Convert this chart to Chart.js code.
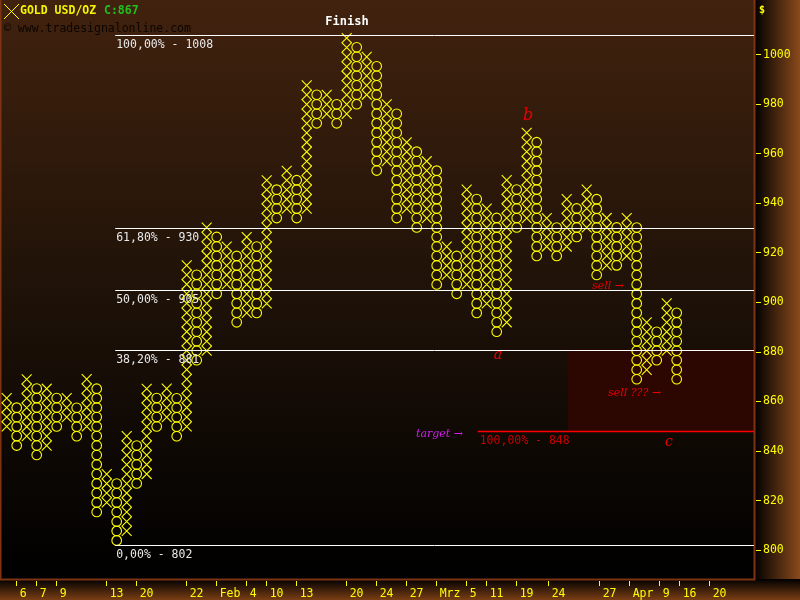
<!DOCTYPE html>
<html>
<head>
<meta charset="utf-8">
<script src="https://cdn.jsdelivr.net/npm/chart.js@4.4.1/dist/chart.umd.min.js"></script>
<style>
html, body { margin: 0; padding: 0; background: #000; }
</style>
</head>
<body>
<canvas id="pnf" width="800" height="600"></canvas>
<script>
// point & figure columns (box ~3.83 $)
var boxSize = 3.83;
var colType = ["X","O","X","O","X","O","X","O","X","O",
               "X","O","X","O","X","O","X","O","X","O",
               "X","O","X","O","X","O","X","O","X","O",
               "X","O","X","O","X","O","X","O","X","O",
               "X","O","X","O","X","O","X","O","X","O",
               "X","O","X","O","X","O","X","O","X","O",
               "X","O","X","O","X","O","X","O"];
var colLow = [849.9, 842.2, 846.0, 838.4, 842.2, 849.9, 853.7, 846.0, 849.9, 815.4,
              819.2, 803.9, 807.7, 826.9, 830.7, 849.9, 853.7, 846.0, 849.9, 876.7,
              880.5, 903.5, 907.3, 892.0, 895.8, 895.8, 899.6, 934.1, 937.9, 934.1,
              937.9, 972.4, 976.2, 972.4, 976.2, 980.1, 983.9, 953.3, 957.1, 934.1,
              937.9, 930.3, 934.1, 907.3, 911.1, 903.5, 907.3, 895.8, 899.6, 888.2,
              892.0, 930.3, 934.1, 918.8, 922.6, 918.8, 922.6, 926.5, 930.3, 911.1,
              915.0, 915.0, 918.8, 869.0, 872.8, 876.7, 880.5, 869.0];
var colHigh = [861.3, 857.5, 869.0, 865.2, 865.2, 861.3, 861.3, 857.5, 869.0, 865.2,
               830.7, 826.9, 846.0, 842.2, 865.2, 861.3, 865.2, 861.3, 915.0, 911.1,
               930.3, 926.5, 922.6, 918.8, 926.5, 922.6, 949.4, 945.6, 953.3, 949.4,
               987.7, 983.9, 983.9, 980.1, 1006.9, 1003.1, 999.2, 995.4, 980.1, 976.2,
               964.8, 960.9, 957.1, 953.3, 922.6, 918.8, 945.6, 941.8, 937.9, 934.1,
               949.4, 945.6, 968.6, 964.8, 934.1, 930.3, 941.8, 937.9, 945.6, 941.8,
               934.1, 930.3, 934.1, 930.3, 892.0, 888.2, 899.6, 895.8];

var tickCols = [1, 3, 5, 10, 13, 18, 21, 24, 26, 29, 34, 37, 40, 43, 46, 48, 51, 54.2, 59.3, 62.3, 65.3, 67.3, 70.3];
var tickLabels = ["6", "7", "9", "13", "20", "22", "Feb", "4", "10", "13", "20", "24", "27", "Mrz", "5", "11", "19", "24", "27", "Apr", "9", "16", "20"];
var priceTicks = [800, 820, 840, 860, 880, 900, 920, 940, 960, 980, 1000];

var fibValues = [1008, 930, 905, 881, 802];
var fibLabels = ["100,00% - 1008", "61,80% - 930", "50,00% - 905", "38,20% - 881", "0,00% - 802"];
var targetValue = 848;
var targetLabel = "100,00% - 848";
var lastClose = 867;

var yellow = "#ffff00";
var mono = "'DejaVu Sans Mono', monospace";

var xPts = [], oPts = [];
for (var i = 0; i < colType.length; i++) {
    var n = Math.round((colHigh[i] - colLow[i]) / boxSize);
    for (var j = 0; j <= n; j++) {
        var p = { x: i, y: colLow[i] + j * boxSize };
        if (colType[i] == "X") xPts.push(p); else oPts.push(p);
    }
}

function noPad(scale) {
    scale.paddingTop = 0;
    scale.paddingBottom = 0;
    scale.paddingLeft = 0;
    scale.paddingRight = 0;
}

var backdrop = {
    id: "backdrop",
    beforeDraw: function (chart) {
        var ctx = chart.ctx, a = chart.chartArea;
        var g = ctx.createLinearGradient(0, a.top, 0, a.bottom);
        g.addColorStop(0, "#41220e");
        g.addColorStop(0.5, "#1f1208");
        g.addColorStop(1, "#000000");
        ctx.fillStyle = g;
        ctx.fillRect(a.left, a.top, a.right - a.left, a.bottom - a.top);

        g = ctx.createLinearGradient(0, a.bottom, 0, chart.height);
        g.addColorStop(0, "#000000");
        g.addColorStop(1, "#7a3e14");
        ctx.fillStyle = g;
        ctx.fillRect(0, a.bottom, chart.width, chart.height - a.bottom);

        g = ctx.createLinearGradient(a.right, 0, chart.width, 0);
        g.addColorStop(0, "#000000");
        g.addColorStop(1, "#8a4a1c");
        ctx.fillStyle = g;
        ctx.fillRect(a.right, 0, chart.width - a.right, a.bottom);
    },
    beforeDatasetsDraw: function (chart) {
        var ctx = chart.ctx, a = chart.chartArea;
        var xs = chart.scales.x, ys = chart.scales.y;
        // target zone
        var x0 = xs.getPixelForValue(56.1);
        var yTop = ys.getPixelForValue(fibValues[3]);
        var yBot = ys.getPixelForValue(targetValue);
        ctx.fillStyle = "#2c0600";
        ctx.fillRect(x0, yTop, a.right - x0, yBot - yTop);
        // frame
        ctx.strokeStyle = "#7e3412";
        ctx.lineWidth = 2;
        ctx.beginPath();
        ctx.moveTo(0.5, 0);
        ctx.lineTo(0.5, a.bottom);
        ctx.moveTo(0, a.bottom + 0.5);
        ctx.lineTo(a.right + 0.5, a.bottom + 0.5);
        ctx.lineTo(a.right + 0.5, 0);
        ctx.stroke();
    },
    afterDatasetsDraw: function (chart) {
        var ctx = chart.ctx, a = chart.chartArea;
        var xs = chart.scales.x, ys = chart.scales.y;
        ctx.save();
        ctx.lineWidth = 1;
        ctx.font = "11.5px " + mono;
        ctx.textBaseline = "top";
        ctx.textAlign = "left";
        var fx = xs.getPixelForValue(10.85);
        for (var k = 0; k < fibValues.length; k++) {
            var y = Math.round(ys.getPixelForValue(fibValues[k])) + 0.5;
            ctx.strokeStyle = "#ffffff";
            ctx.beginPath();
            ctx.moveTo(fx, y);
            ctx.lineTo(a.right, y);
            ctx.stroke();
            ctx.fillStyle = "#e8e8e8";
            ctx.fillText(fibLabels[k], fx + 1, y + 4);
        }
        var tx = xs.getPixelForValue(47.1);
        var ty = Math.round(ys.getPixelForValue(targetValue)) + 0.5;
        ctx.strokeStyle = "#ff0000";
        ctx.lineWidth = 1.5;
        ctx.beginPath();
        ctx.moveTo(tx, ty);
        ctx.lineTo(a.right, ty);
        ctx.stroke();
        ctx.fillStyle = "#c80000";
        ctx.fillText(targetLabel, tx + 2, ty + 4);

        ctx.fillStyle = "#ffffff";
        ctx.textAlign = "center";
        ctx.textBaseline = "middle";
        ctx.font = "bold 12px " + mono;
        ctx.fillText("Finish", 347, 22);

        ctx.fillStyle = "#e80000";
        ctx.font = "italic 16px 'DejaVu Serif', serif";
        ctx.fillText("b", 528, 116);
        ctx.font = "italic 14px 'DejaVu Serif', serif";
        ctx.fillText("a", 498, 355);
        ctx.fillText("c", 669, 442);

        ctx.font = "italic 11px 'DejaVu Serif', serif";
        ctx.textAlign = "left";
        ctx.fillText("sell \u2192", 592, 286);
        ctx.fillText("sell ??? \u2192", 608, 393);
        ctx.fillStyle = "#d020f0";
        ctx.fillText("target \u2192", 416, 434);
        ctx.restore();
    },
    afterDraw: function (chart) {
        var ctx = chart.ctx;
        ctx.save();
        ctx.strokeStyle = yellow;
        ctx.lineWidth = 1;
        ctx.beginPath();
        ctx.moveTo(4, 4); ctx.lineTo(19, 19);
        ctx.moveTo(19, 4); ctx.lineTo(4, 19);
        ctx.stroke();
        ctx.textBaseline = "middle";
        ctx.textAlign = "left";
        ctx.font = "bold 11.5px " + mono;
        ctx.fillStyle = "#f5f500";
        ctx.fillText("GOLD USD/OZ", 20, 11);
        ctx.fillStyle = "#20c020";
        ctx.fillText("C:" + lastClose, 104, 11);
        ctx.font = "11.5px " + mono;
        ctx.fillStyle = "#0c0502";
        ctx.fillText("\u00a9 www.tradesignalonline.com", 4, 29);
        ctx.fillStyle = yellow;
        ctx.font = "bold 10px " + mono;
        ctx.fillText("$", 759, 10);
        ctx.restore();
    }
};

new Chart("pnf", {
    type: "scatter",
    data: {
        datasets: [{
            label: "X",
            data: xPts,
            pointStyle: "crossRot",
            pointRadius: 7,
            pointBorderColor: yellow,
            pointBorderWidth: 1.1
        }, {
            label: "O",
            data: oPts,
            pointStyle: "circle",
            pointRadius: 4.8,
            pointBorderColor: yellow,
            pointBackgroundColor: "rgba(0,0,0,0)",
            pointBorderWidth: 1.1
        }]
    },
    options: {
        responsive: false,
        animation: false,
        events: [],
        layout: { padding: 0, autoPadding: false },
        plugins: {
            legend: { display: false },
            tooltip: { enabled: false }
        },
        scales: {
            x: {
                type: "linear",
                position: "bottom",
                min: -0.67,
                max: 74.73,
                afterBuildTicks: function (scale) {
                    scale.ticks = tickCols.map(function (v) { return { value: v }; });
                },
                afterFit: function (scale) { scale.height = 21; noPad(scale); },
                grid: {
                    drawOnChartArea: false,
                    tickLength: 7,
                    tickColor: yellow,
                    tickBorderDash: [0, 2, 5, 20]
                },
                border: { display: false },
                ticks: {
                    autoSkip: false,
                    maxRotation: 0,
                    align: "start",
                    labelOffset: 3,
                    padding: 1,
                    color: yellow,
                    font: { family: mono, size: 11.5 },
                    callback: function (v, idx) { return tickLabels[idx]; }
                }
            },
            y: {
                type: "linear",
                position: "right",
                min: 788.3,
                max: 1022.2,
                afterBuildTicks: function (scale) {
                    scale.ticks = priceTicks.map(function (v) { return { value: v }; });
                },
                afterFit: function (scale) { scale.width = 46; noPad(scale); },
                grid: {
                    drawOnChartArea: false,
                    tickLength: 7,
                    tickColor: yellow,
                    tickBorderDash: [0, 2, 5, 20]
                },
                border: { display: false },
                ticks: {
                    padding: 2,
                    color: yellow,
                    font: { family: mono, size: 11.5 },
                    callback: function (v) { return v; }
                }
            }
        }
    },
    plugins: [backdrop]
});
</script>
</body>
</html>
